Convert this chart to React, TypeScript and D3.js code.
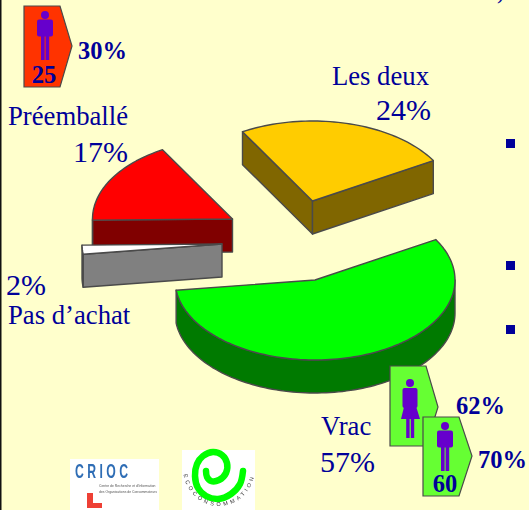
import * as d3 from 'd3';

// values
const categories = ['Les deux', 'Vrac', 'Pas d’achat', 'Préemballé'];
const percentLabels = ['24%', '57%', '2%', '17%'];
const sliceShares = [24.9, 56.4, 1.8, 16.9]; // as drawn in the picture, slightly off the printed labels
const badgeLabels = ['30%', '62%', '70%'];
const badgeCounts = ['25', '60'];

// styling per slice, same order as categories
const topColors = ['#ffcc00', '#00ff00', '#ffffff', '#ff0000'];
const wallColors = ['#806600', '#007a00', '#808080', '#800000'];
const apexes: [number, number][] = [[312.5, 201], [315, 280], [222, 244], [232.5, 219]];

const width = 529;
const height = 510;
const depth = 33;
const textBlue = '#000099';
const edge = '#4a4a4a';
const serif = '"Liberation Serif", "Times New Roman", serif';

const pie = d3.pie<number>()
  .sort(null)
  .startAngle(-Math.PI / 6)
  .endAngle(-Math.PI / 6 + 2 * Math.PI);

// tilted pie: the circle is squashed into an ellipse
const ex = d3.scaleLinear().domain([-1, 1]).range([-140, 140]);
const ey = d3.scaleLinear().domain([-1, 1]).range([-80, 80]);
const line = d3.line();

function rim(apex: [number, number], t: number, drop = 0): [number, number] {
  return [apex[0] + ex(Math.sin(t)), apex[1] + ey(-Math.cos(t)) + drop];
}

function arcPoints(apex: [number, number], a0: number, a1: number, drop = 0) {
  const n = Math.max(2, Math.ceil(Math.abs(a1 - a0) / 0.03));
  return d3.range(n + 1).map(i => rim(apex, a0 + ((a1 - a0) * i) / n, drop));
}

function Slice({ i, a0, a1 }: { i: number; a0: number; a1: number }) {
  const apex = apexes[i];
  const down = (p: [number, number]): [number, number] => [p[0], p[1] + depth];
  const wallA = [rim(apex, a0), apex, down(apex), down(rim(apex, a0))] as [number, number][];
  const wallB = [apex, rim(apex, a1), down(rim(apex, a1)), down(apex)] as [number, number][];
  const v0 = Math.max(a0, Math.PI / 2);
  const v1 = Math.min(a1, (3 * Math.PI) / 2);
  const top = [apex, ...arcPoints(apex, a0, a1)] as [number, number][];
  return (
    <g stroke={edge} strokeWidth={1.4} strokeLinejoin="round">
      {/* only the radial walls that face the viewer */}
      {Math.sin(a0) < 0 && <path d={line(wallA) + 'Z'} fill={wallColors[i]} />}
      {Math.sin(a1) > 0 && <path d={line(wallB) + 'Z'} fill={wallColors[i]} />}
      {v1 > v0 && (
        <path
          d={line([...arcPoints(apex, v0, v1), ...arcPoints(apex, v1, v0, depth)] as [number, number][]) + 'Z'}
          fill={wallColors[i]}
        />
      )}
      <path d={line(top) + 'Z'} fill={topColors[i]} />
    </g>
  );
}

function Badge({ x, y, w, h, tip, tipY, fill }: any) {
  const pts: [number, number][] = [[x, y], [x + w, y], [x + w + tip, tipY], [x + w, y + h], [x, y + h]];
  return <path d={line(pts) + 'Z'} fill={fill} stroke={edge} strokeWidth={1.2} />;
}

const purple = '#6600cc';

function Man({ x, y }: { x: number; y: number }) {
  return (
    <g fill={purple} transform={`translate(${x},${y})`}>
      <circle cx={0} cy={0} r={4} />
      <rect x={-8} y={4.5} width={16} height={17} rx={2} />
      <rect x={-4} y={21} width={3.6} height={24} />
      <rect x={0.6} y={21} width={3.6} height={24} />
    </g>
  );
}

function Woman({ x, y }: { x: number; y: number }) {
  return (
    <g fill={purple} transform={`translate(${x},${y})`}>
      <circle cx={0} cy={0} r={4} />
      <rect x={-7.5} y={5} width={15} height={20} rx={2} />
      <path d="M-5,20 L5,20 L10,36 L-9,36 Z" />
      <rect x={-3.8} y={36} width={3.4} height={19} />
      <rect x={0.8} y={36} width={3.4} height={19} />
    </g>
  );
}

const spiralPoints: [number, number][] = [
  [243, 471], [240, 484], [231, 494], [218, 499], [206, 496], [198, 488], [195, 476],
  [197, 464], [203, 456], [213, 452], [222, 455], [227, 463], [226, 473], [219, 480],
  [211, 481], [207, 477], [206, 471],
];

export default function App() {
  const arcs = pie(sliceShares);
  const spiral = d3.line().curve(d3.curveCatmullRom)(spiralPoints) as string;
  return (
    <svg
      width={width}
      height={height}
      style={{ position: 'absolute', left: 0, top: 0, display: 'block' }}
      fontFamily={serif}
    >
      <defs>
        <filter id="soft"><feGaussianBlur stdDeviation="0.4" /></filter>
        <path id="ecoPath" d="M183,468 A36,38 0 0 0 255,468" fill="none" />
      </defs>
      <rect width={width} height={height} fill="#ffffcc" />
      <rect width={1.5} height={height} fill="#111111" />

      {[3, 2, 0, 1].map(i => (
        <Slice key={categories[i]} i={i} a0={arcs[i].startAngle} a1={arcs[i].endAngle} />
      ))}

      <g fill={textBlue} fontSize={26.7}>
        <text x={429} y={85} textAnchor="end">{categories[0]}</text>
        <text x={431} y={120} textAnchor="end" fontSize={30}>{percentLabels[0]}</text>
        <text x={321} y={435}>{categories[1]}</text>
        <text x={320} y={472} fontSize={30}>{percentLabels[1]}</text>
        <text x={6} y={295} fontSize={30}>{percentLabels[2]}</text>
        <text x={8} y={324}>{categories[2]}</text>
        <text x={8} y={125}>{categories[3]}</text>
        <text x={128} y={162} textAnchor="end" fontSize={30}>{percentLabels[3]}</text>
      </g>

      <g fill={textBlue}>
        <rect x={506} y={139} width={9} height={9} />
        <rect x={506} y={261} width={9} height={9} />
        <rect x={506} y={325} width={9} height={9} />
        <text x={497} y={-1} fontSize={22}>)</text>
      </g>

      <Badge x={24} y={6} w={36} h={81} tip={12} tipY={46} fill="#ff3300" />
      <Man x={45} y={15} />
      <Badge x={390} y={366} w={36} h={80} tip={12} tipY={407} fill="#66ff33" />
      <Woman x={410} y={383} />
      <Badge x={423} y={417} w={36} h={79} tip={13} tipY={456} fill="#66ff33" />
      <Man x={445} y={426} />

      <g fill={textBlue} fontWeight="bold" fontSize={24.5}>
        <text x={78} y={59}>{badgeLabels[0]}</text>
        <text x={456} y={414}>{badgeLabels[1]}</text>
        <text x={478} y={468}>{badgeLabels[2]}</text>
        <text x={44} y={83} textAnchor="middle">{badgeCounts[0]}</text>
        <text x={445} y={492} textAnchor="middle">{badgeCounts[1]}</text>
      </g>

      <g filter="url(#soft)">
        <rect x={70} y={459} width={89} height={51} fill="#ffffff" />
        <text x={75} y={478} fontFamily="'Liberation Sans', sans-serif" fontWeight="bold"
          fontSize={20} textLength={53} lengthAdjust="spacingAndGlyphs" fill="#2f6db5">C R I O C</text>
        <g fontFamily="'Liberation Sans', sans-serif" fontSize={3.4} fill="#555555">
          <text x={99} y={487}>Centre de Recherche et d'Information</text>
          <text x={99} y={493}>des Organisations de Consommateurs</text>
        </g>
        <path d="M87,493 H93 V503 H102 V508 H87 Z" fill="#ee4035" />
      </g>

      <rect x={182} y={450} width={73} height={60} fill="#ffffff" />
      <path d={spiral} fill="none" stroke="#00ff00" strokeWidth={6.5} strokeLinecap="round" />
      <text fontFamily="'Liberation Sans', sans-serif" fontSize={5.5} letterSpacing={3} fill="#333333" filter="url(#soft)">
        <textPath href="#ecoPath" startOffset="50%" textAnchor="middle">ECOCONSOMMATION</textPath>
      </text>
    </svg>
  );
}
